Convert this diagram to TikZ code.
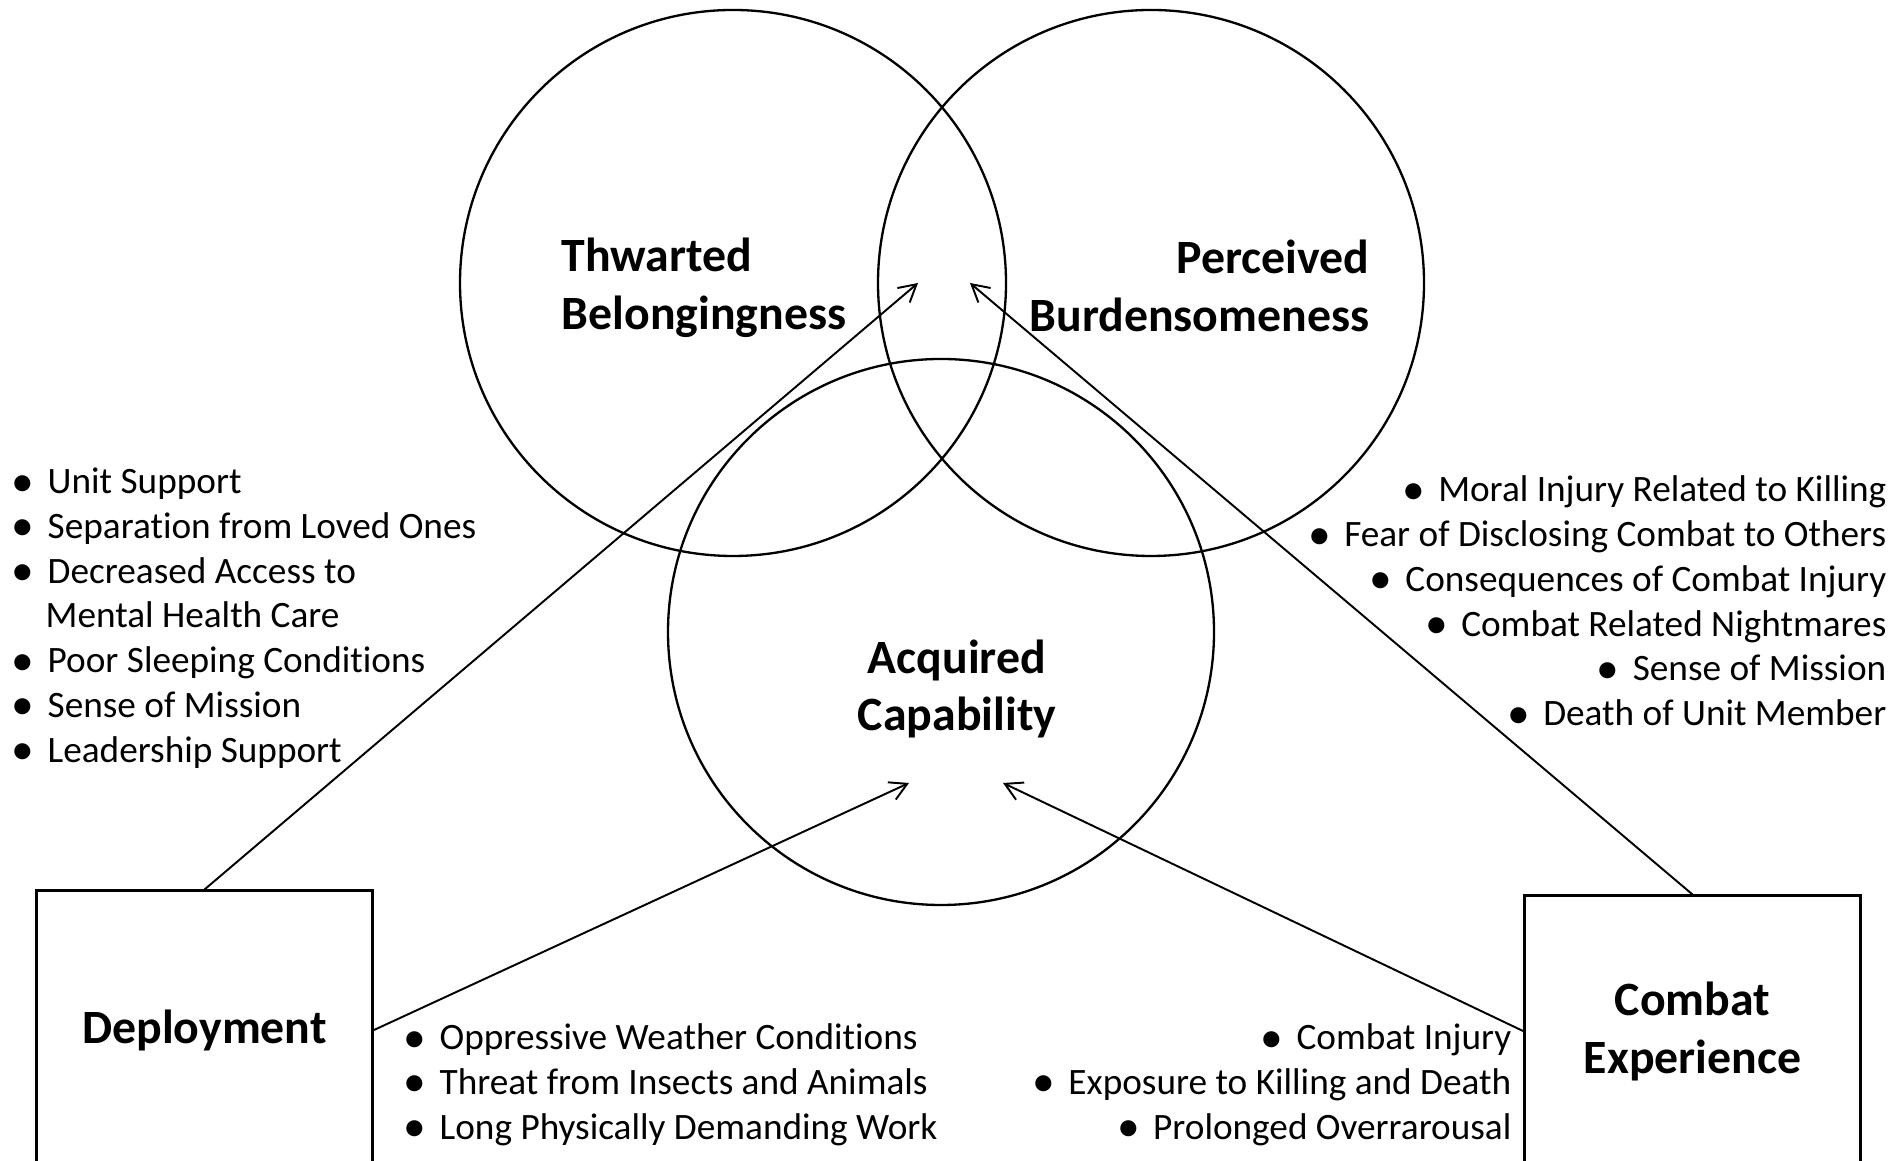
\documentclass[tikz,border=0pt]{standalone}
\usepackage{fontspec}
\setmainfont{Carlito}[Ligatures={NoCommon}]
\usepackage{tikz}
\usetikzlibrary{arrows.meta}

\newcommand{\bul}{\makebox[0.36cm][l]{\raisebox{-0.07em}{\scalebox{1.22}{\textbullet}}}}

\begin{document}
\begin{tikzpicture}[x=1cm,y=1cm,
    factor/.style={draw, line width=0.85pt, minimum width=3.36cm, inner sep=0pt,
                   align=center, font=\fontsize{13.6}{16.5}\selectfont\bfseries},
    head/.style={inner sep=0pt, font=\fontsize{13.6}{16.5}\selectfont\bfseries},
    items/.style={inner sep=0pt, font=\fontsize{10.6}{12.74}\selectfont},
    link/.style={line width=0.55pt, -{Straight Barb[length=1.7mm,width=1.9mm]}}]

  \useasboundingbox (0,0) rectangle (18.97,11.61);

  % -- the three circles of the model
  \foreach \cx/\cy in {7.33/8.78, 11.51/8.78, 9.41/5.29}
    \draw[line width=0.66pt] (\cx,\cy) circle (2.73);

  \node[head, align=left, anchor=west] (tb) at (5.61,8.73) {Thwarted\\Belongingness};
  \node[head, align=right, anchor=east] (pb) at (13.70,8.75) {Perceived\hspace{0.19cm}\\Burdensomeness};
  \node[head, align=center] (ac) at (9.57,4.72) {Acquired\\Capability};

  % -- the two sources. Their bottom edges run off the page.
  \node[factor, minimum height=2.78cm] (deploy) at (2.045,1.31) {Deployment};
  \node[factor, minimum height=2.70cm] (combat) at (16.925,1.30) {Combat\\Experience};

  % -- arrow ends, all in the overlap
  \coordinate (tbEnd) at (9.18,8.78);
  \coordinate (pbEnd) at (9.70,8.78);
  \coordinate (acLeft) at (9.09,3.78);
  \coordinate (acRight) at (10.03,3.78);

  \draw[link] (deploy.north) -- (tbEnd);
  \draw[link] (combat.north) -- (pbEnd);
  \draw[link] (deploy.east) -- (acLeft);
  \draw[link] (combat.west) -- (acRight);

  % -- lists of stressors
  \node[items, align=left, anchor=west] (deployTop) at (0.11,5.43) {%
    \bul Unit Support\\
    \bul Separation from Loved Ones\\
    \bul Decreased Access to\\
    \hspace{0.34cm}Mental Health Care\\
    \bul Poor Sleeping Conditions\\
    \bul Sense of Mission\\
    \bul Leadership Support};
  \node[items, align=right, anchor=east] (combatTop) at (18.87,5.59) {%
    \bul Moral Injury Related to Killing\\
    \bul Fear of Disclosing Combat to Others\\
    \bul Consequences of Combat Injury\\
    \bul Combat Related Nightmares\\
    \bul Sense of Mission\\
    \bul Death of Unit Member};
  \node[items, align=left, anchor=west] (deployLow) at (4.03,0.765) {%
    \bul Oppressive Weather Conditions\\
    \bul Threat from Insects and Animals\\
    \bul Long Physically Demanding Work};
  \node[items, align=right, anchor=east] (combatLow) at (15.12,0.765) {%
    \bul Combat Injury\\
    \bul Exposure to Killing and Death\\
    \bul Prolonged Overrarousal};
\end{tikzpicture}
\end{document}
